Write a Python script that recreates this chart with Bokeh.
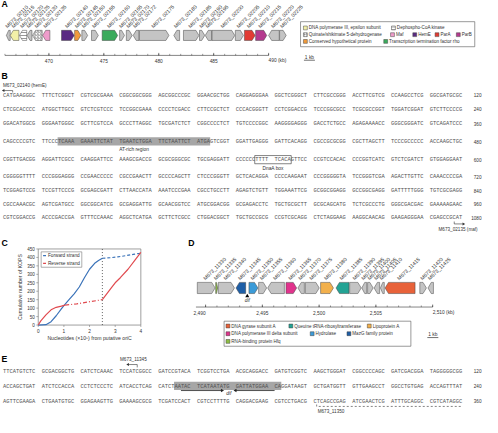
import math
from bokeh.plotting import figure
from bokeh.models import Range1d, ColumnDataSource
from bokeh.core.properties import value
from bokeh.embed import file_html
from bokeh.resources import INLINE

# ============================ DATA ============================
# ---- Panel A: gene map (kb) ----
A_IDS = ["M673_02110", "M673_02115", "M673_02120", "M673_02125", "M673_02130", "M673_02135",
         "M673_02140", "M673_02145", "M673_02150", "M673_02155", "M673_02160", "M673_02165",
         "M673_02170", "M673_02172", "M673_02175", "M673_02180", "M673_02185", "M673_02190",
         "M673_02195", "M673_02200", "M673_02205", "M673_02210", "M673_02215", "M673_02220",
         "M673_02225"]
A_START = [466.13, 466.48, 467.32, 468.02, 468.51, 469.43, 471.15, 472.34, 473.00, 473.88,
           474.85, 476.44, 477.05, 477.67, 478.24, 481.37, 482.25, 483.71, 484.23, 484.85,
           486.97, 487.80, 488.82, 490.00, 491.00]
A_END = [466.48, 467.27, 467.98, 468.46, 469.39, 470.09, 472.30, 472.91, 473.53, 474.50,
         476.26, 476.88, 477.58, 478.20, 480.93, 481.90, 483.66, 484.19, 484.81, 486.92,
         487.71, 488.77, 489.83, 490.97, 491.60]
A_STRAND = [-1, -1, -1, -1, -1, -1, 1, 1, 1, 1, 1, 1, 1, -1, 1, -1, 1, 1, -1, 1, 1, 1, 1, -1, 1]
A_FUNC = ["hyp", "polIII", "coaE", "hyp", "aroE", "maf", "hemE", "chp", "hyp", "hyp", "rho",
          "hyp", "hyp", "hyp", "hyp", "hyp", "hyp", "hyp", "hyp", "hyp", "hyp", "parA", "parB",
          "hyp", "hyp"]
A_AXIS = (466, 490)
A_TICKS = [470, 475, 480, 485, 490]
A_TICK_LABELS = ["470", "475", "480", "485", "490 (kb)"]
A_LEG_FUNC = ["polIII", "coaE", "aroE", "maf", "hemE", "parA", "parB", "chp", "rho"]
A_LEG_TEXT = ["DNA polymerase III, epsilon subunit", "Dephospho-CoA kinase",
              "Quinate/shikimate 5-dehydrogenase", "Maf", "HemE", "ParA", "ParB",
              "Conserved hypothetical protein", "Transcription termination factor rho"]

# ---- Panel B: sequence ----
B_SEQ = [
    "CATGAAGGGC TTTCTCGGCT CGTCGCGAAA CGGCGGCGGG AGCGGCCCGC GGAACGCTGG CAGGAGGGAA GGCTCGGGCT CTTCGCCGGG ACCTTCGTCG CCAAGCCTCG GGCGATGCGC",
    "CTCGCACCCC ATGGCTTGCC GTCTCGTCCC TCCGGCGAAA CCCCTCGACC CTTCCGCTCT CCCACGGGTT CCTCGGACCG TCCCGGCGCC TCGCGCCGGT TGGATCGGAT GTCTTCCCCG",
    "GGACATGGCG GGGAATGGGC GCTTCGTCCA GCCCTTAGGC TGCGATCTCT CGGCCCCTCT TGTCCCCGGC AAGGGGAGGG GACCTCTGCC AGAGAAAACC GGGCGGGATC GTCAGATCCC",
    "CAGCCCCGTC TTCCCTCAAA GAAATTCTAT TGAATCTGGA TTCTAATTCT ATGAGTCGGT GGATTGAGGG GATTCACAGG CGCCGCGCGG CGCTTAGCTT TCCCGCCCCC ACCAAGCTGC",
    "CGGTTGACGG AGGATTCGCC CAAGGATTCC AAAGCGACCG GCGCGGGCGC TGCGAGGATT CCCCCCTTTT TCACAGTTCC CCGTCCACAC CCCGGTCATC GTCTCGATCT GTGGAGGAAT",
    "CGGGGGTTTT CCCGGGAGGG CCGAACCCCC CGCCGAACTT GCCCCAGCTT CTCCCGGGTT GCTCACAGGA CCCCAAGAAT CCCGGGGGTA TCCGGGTCGA AGACTTGTTC CAAACCCCGA",
    "TCGGAGTCCG TCCGTTCCCG GCGAGCGATT CTTAACCATA AAATCCCGAA CGCCTGCCTT AGAGTCTGTT TGGAAATTCG GCGGCGGAGG GCCGGCGAGG GATTTTTGGG TGTCGCGAGG",
    "CGCCAAACGC AGTCGATGCC GGCGGCATCG GCGAGGATTG GCAACGGTCC ATGCGGACGG GCGAGACCTC TGCTGCGCTT GCGCAGCATG TCTCGCCCTG GGGCGACGAC GAAAAAGAAC",
    "CGTCGGACCG ACCCGACCGA GTTTCCAAAC AGGCTCATGA GCTTCTCGCC CTGGACGGCT TGCTGCCGCG CCGTCGCAGG CTCTAGGAAG AAGGCAACAG GAAGAGGGAA CGAGCCGCAT",
]
B_ENDS = ["120", "240", "360", "480", "600", "720", "840", "960", "1080"]

# ---- Panel C: cumulative KOPS ----
C_FWD_X = [0.0, 0.3, 0.5, 0.7, 0.9, 1.0, 1.2, 1.4, 1.6, 1.8, 2.0, 2.2, 2.35, 2.5]
C_FWD_Y = [0, 2, 20, 55, 95, 115, 150, 185, 225, 280, 330, 365, 382, 395]
C_FWD2_X = [2.5, 2.8, 3.1, 3.4, 3.7, 4.0]
C_FWD2_Y = [395, 398, 403, 410, 418, 425]
C_REV_X = [0.0, 0.1, 0.3, 0.5, 0.7, 0.9, 1.05]
C_REV_Y = [0, 25, 60, 90, 105, 112, 118]
C_REV2_X = [1.05, 1.5, 2.0, 2.5]
C_REV2_Y = [118, 125, 138, 150]
C_REV3_X = [2.5, 2.7, 2.9, 3.0, 3.2, 3.5, 3.8, 4.0]
C_REV3_Y = [150, 190, 230, 250, 280, 330, 390, 430]
C_XTICKS = [0, 1, 2, 3, 4]
C_YTICKS = [0, 50, 100, 150, 200, 250, 300, 350, 400, 450]
C_ORIC_DIST = 2.5

# ---- Panel D: gene map (kb) ----
D_IDS = ["M673_11330", "M673_11335", "M673_11340", "M673_11345", "M673_11350", "M673_11355",
         "M673_11360", "M673_11365", "M673_11370", "M673_11375", "M673_11380", "M673_11385",
         "M673_11390", "M673_11395", "M673_11400", "M673_11405", "M673_11410", "M673_11415",
         "M673_11420", "M673_11425"]
D_START = [2489.27, 2490.89, 2491.12, 2492.68, 2493.82, 2494.67, 2495.47, 2497.08, 2498.13,
           2498.79, 2500.13, 2501.49, 2502.69, 2503.76, 2504.27, 2504.84, 2505.40, 2505.81,
           2508.87, 2509.59]
D_END = [2490.84, 2491.06, 2492.54, 2493.53, 2494.61, 2495.38, 2496.94, 2498.02, 2498.70,
         2500.01, 2501.26, 2502.63, 2503.71, 2504.19, 2504.76, 2505.33, 2505.74, 2508.45,
         2509.45, 2510.07]
D_STRAND = [1, 1, 1, -1, 1, 1, -1, 1, -1, 1, 1, -1, 1, -1, 1, -1, -1, -1, 1, -1]
D_FUNC = ["hyp", "hfq", "hyp", "mazG", "hydro", "hyp", "hyp", "holA", "hyp", "hyp", "lppA",
          "tgt", "hyp", "hyp", "hyp", "hyp", "hyp", "gyrA", "hyp", "hyp"]
D_DIF = 2493.67
D_AXIS = (2489.15, 2510)
D_TICKS = [2490, 2495, 2500, 2505, 2510]
D_TICK_LABELS = ["2,490", "2,495", "2,500", "2,505", "2,510 (kb)"]
D_LEG_FUNC = ["gyrA", "tgt", "lppA", "holA", "hydro", "mazG", "hfq"]
D_LEG_TEXT = ["DNA gyrase subunit A", "Queuine tRNA-ribosyltransferase", "Lipoprotein A",
              "DNA polymerase III delta subunit", "Hydrolase", "MazG family protein",
              "RNA-binding protein Hfq"]

# ---- Panel E: sequence ----
E_SEQ = [
    "TTCATGTCTC GCGACGGCTG CATCTCAAAC TCCATCGGCC GATCCGTACA TCGGTCCTGA ACGCAGGACC GATGTCGGTC AAGCTGGGAT CGGCCCCAGC GATCGACGGA TAGGGGGCGG",
    "ACCAGCTGAT ATCTCCACCA CCTCTCCCTC ATCACCTCAG CATCTAATAC TCATAATATG GATTATGGAA CAGGATAAGT GCTGATGGTT GTTGAAGCCT GGCCTGTGAG ACCAGTTTAT",
    "AGTTCGAAGA CTGAATGTGC GGAGAAGTTG GAAAAGCGCG TCGATCCACT CGTCCTTTTG CAGGACGAAG CGTCCTGACG CTCAGCCGAG ATCGAACTCG ATTTGCAGGC CGTCATAGGC",
]
E_ENDS = ["120", "240", "360"]

# ============================ STYLE / LAYOUT ============================
COLORS = {"hyp": "#c4c4c4", "polIII": "#f3f0a8", "coaE": "#ffffff", "aroE": "#ffffff",
          "maf": "#ee9ccb", "hemE": "#5a2a83", "chp": "#f09a3c", "rho": "#3bab5c",
          "parA": "#e23b33", "parB": "#b53a8f",
          "gyrA": "#e8623a", "holA": "#e0338c", "hfq": "#8dbd44", "tgt": "#23a394",
          "hydro": "#3b9bd8", "mazG": "#1e5ea6", "lppA": "#f2b04c"}
HATCH = {"aroE": "/", "coaE": "-"}

REF_W, REF_H = 498, 433
W, H = 482, 417
S = W / REF_W


def fsz(px):
    return f"{px * S:.2f}px"


SANS = value("Liberation Sans")
MONO = value("Liberation Mono")
TXT = "#333333"
SEQ_COL = "#505050"

A_PX470, A_PXKB = 50.0, 11.35
D_PX2490, D_PXKB = 211.9, 11.73
C_L, C_R, C_T, C_B = 39.0, 145.0, 258.0, 337.0
C_XMAX, C_YMAX = 4.0, 450.0
CXP = C_XMAX / (C_R - C_L)
CYP = C_YMAX / (C_B - C_T)

p = figure(width=W, height=H, x_range=Range1d(0, REF_W), y_range=Range1d(REF_H, 0),
           output_backend="svg", toolbar_location=None, min_border=0,
           x_axis_location=None, y_axis_location=None)
p.grid.visible = False
p.outline_line_color = None
p.background_fill_color = "white"
p.extra_x_ranges = {
    "akb": Range1d(470 - A_PX470 / A_PXKB, 470 + (REF_W - A_PX470) / A_PXKB),
    "dkb": Range1d(2490 - D_PX2490 / D_PXKB, 2490 + (REF_W - D_PX2490) / D_PXKB),
    "cx": Range1d(-C_L * CXP, (REF_W - C_L) * CXP),
}
p.extra_y_ranges = {"cy": Range1d((C_B - REF_H) * CYP, C_B * CYP)}


def text(x, y, t, size, align="left", baseline="middle", color=TXT, font=SANS,
         style="normal", angle=0.0, xr="default", yr="default"):
    src = ColumnDataSource(dict(x=list(x), y=list(y), t=list(t)))
    p.text(x="x", y="y", text="t", source=src, text_font=font, text_font_size=fsz(size),
           text_align=align, text_baseline=baseline, text_color=color,
           text_font_style=style, angle=angle, x_range_name=xr, y_range_name=yr)


def gene_map(rng, ids, starts, ends, strands, funcs, ytop, ybot, head_kb, label_size):
    xs, ys, cols = [], [], []
    hx, hy, hp = [], [], []
    ym = (ytop + ybot) / 2
    for s, e, st, f in zip(starts, ends, strands, funcs):
        h = min(head_kb, (e - s) * 0.6)
        if st > 0:
            gx = [s, e - h, e, e - h, s]
        else:
            gx = [e, s + h, s, s + h, e]
        gy = [ytop, ytop, ym, ybot, ybot]
        xs.append(gx); ys.append(gy); cols.append(COLORS[f])
        if f in HATCH:
            hx.append(gx); hy.append(gy); hp.append(HATCH[f])
    p.patches(xs=xs, ys=ys, fill_color=cols, line_color="#444444", line_width=0.5,
              x_range_name=rng)
    if hx:
        p.patches(xs=hx, ys=hy, fill_alpha=0, line_alpha=0, hatch_pattern=hp,
                  hatch_color="#333333", hatch_scale=3.0, hatch_weight=0.5, x_range_name=rng)
    centers = [(s + e) / 2 for s, e in zip(starts, ends)]
    text(centers, [ytop - 1.2] * len(ids), ids, label_size, align="left",
         baseline="bottom", angle=math.pi / 4, xr=rng)


def kb_axis(rng, lo, hi, majors, labels, aligns, y, label_dy):
    p.segment(x0=[lo], y0=[y], x1=[hi], y1=[y], line_color="#333333", line_width=0.6,
              x_range_name=rng)
    minors = list(range(math.ceil(lo), int(hi) + 1))
    p.segment(x0=minors, y0=[y - 1.6] * len(minors), x1=minors, y1=[y] * len(minors),
              line_color="#333333", line_width=0.5, x_range_name=rng)
    p.segment(x0=majors, y0=[y - 2.6] * len(majors), x1=majors, y1=[y] * len(majors),
              line_color="#333333", line_width=0.6, x_range_name=rng)
    for m, lab, al in zip(majors, labels, aligns):
        text([m], [y + label_dy], [lab], 5.0, align=al, xr=rng)


def scale_bar(x, y):
    p.segment(x0=[x], y0=[y], x1=[x + A_PXKB], y1=[y], line_color="#333333", line_width=0.7)
    text([x + A_PXKB / 2], [y - 3], ["1 kb"], 5.0, align="center")


def legend(funcs, labels, pos, leg_box):
    l, t, r, b = leg_box
    p.quad(left=[l], right=[r], top=[t], bottom=[b], fill_color="white",
           line_color="#555555", line_width=0.6)
    xs = [q[0] for q in pos]
    ys = [q[1] for q in pos]
    cols = [COLORS[f] for f in funcs]
    p.quad(left=xs, right=[x + 4 for x in xs], top=[y - 2 for y in ys],
           bottom=[y + 2 for y in ys], fill_color=cols, line_color="#444444", line_width=0.5)
    hq = [(x, y, HATCH[f]) for x, y, f in zip(xs, ys, funcs) if f in HATCH]
    if hq:
        p.quad(left=[q[0] for q in hq], right=[q[0] + 4 for q in hq],
               top=[q[1] - 2 for q in hq], bottom=[q[1] + 2 for q in hq], fill_alpha=0,
               line_alpha=0, hatch_pattern=[q[2] for q in hq], hatch_color="#333333",
               hatch_scale=2.5, hatch_weight=0.5)
    text([x + 5.5 for x in xs], ys, labels, 4.7, align="left")


# ---- panel letters ----
text([1, 1, 1, 194, 1], [4, 78, 252, 252, 372], ["A", "B", "C", "D", "E"], 9,
     style="bold", color="black")

# ============================ PANEL A ============================
gene_map("akb", A_IDS, A_START, A_END, A_STRAND, A_FUNC, 31, 41.5, 0.28, 5.3)
kb_axis("akb", A_AXIS[0], A_AXIS[1], A_TICKS, A_TICK_LABELS,
        ["center", "center", "center", "center", "left"], 57, 5.5)
legend(A_LEG_FUNC, A_LEG_TEXT,
       [(313, 28.5), (404, 28.5), (313, 35.5), (403, 35.5), (426, 35.5), (449, 35.5),
        (471, 35.5), (313, 42.5), (396, 42.5)],
       (310, 22, 490, 48))
scale_bar(313.5, 62)

# ============================ PANEL B ============================
GX0, GW, CW = 2.5, 40.1, 3.36
B_Y = [98.5, 113.0, 128.0, 146.5, 165.5, 183.0, 197.5, 211.5, 225.5]
E_Y = [385.0, 400.5, 416.0]


def seq_block(lines, ys, ends):
    gx, gy, gt = [], [], []
    for line, y in zip(lines, ys):
        for g, grp in enumerate(line.split(" ")):
            gx.append(GX0 + g * GW); gy.append(y); gt.append(grp)
    text(gx, gy, gt, 5.6, align="left", color=SEQ_COL, font=MONO)
    text([497] * len(ends), ys, ends, 4.8, align="right")


def seq_x(g, c):
    return GX0 + g * GW + c * CW


# AT-rich highlight (line 4) and DnaA box (line 5)
p.quad(left=[seq_x(1, 5) - 0.4], right=[seq_x(5, 4) + 0.2], top=[B_Y[3] - 4.5],
       bottom=[B_Y[3] + 4.0], fill_color="#a6a6a6", line_color=None)
p.quad(left=[seq_x(6, 6) - 0.6], right=[seq_x(7, 5) + 0.4], top=[B_Y[4] - 4.5],
       bottom=[B_Y[4] + 4.0], fill_color=None, line_color="#333333", line_width=0.6)
seq_block(B_SEQ, B_Y, B_ENDS)
text([(seq_x(1, 5) + seq_x(5, 4)) / 2], [B_Y[3] + 8.5], ["AT-rich region"], 5.0, align="center")
text([(seq_x(6, 6) + seq_x(7, 5)) / 2], [B_Y[4] + 8.5], ["DnaA box"], 5.0, align="center")

# hemE start arrow
hx = seq_x(0, 3)
p.line(x=[hx, hx, 2.5], y=[B_Y[0] - 3, 93.5, 93.5], line_color="#333333", line_width=0.6)
p.scatter(x=[3.2], y=[93.5], marker="triangle", size=3, angle=math.pi / 2,
          fill_color="#333333", line_color=None)
text([2.5], [88.5], ["M673_02140 (hemE)"], 4.8, align="left")
# maf start arrow
mx = seq_x(11, 7.5)
p.line(x=[mx, mx, mx + 9], y=[B_Y[8] + 4, 232, 232], line_color="#333333", line_width=0.6)
p.scatter(x=[mx + 9.5], y=[232], marker="triangle", size=3, angle=-math.pi / 2,
          fill_color="#333333", line_color=None)
text([493], [238], ["M673_02135 (maf)"], 4.8, align="right")

# ============================ PANEL C ============================
CX = dict(x_range_name="cx", y_range_name="cy")
p.quad(left=[0], right=[C_XMAX], bottom=[0], top=[C_YMAX], fill_color=None,
       line_color="#777777", line_width=0.7, **CX)
p.segment(x0=[-2 * CXP] * len(C_YTICKS), x1=[0] * len(C_YTICKS), y0=C_YTICKS, y1=C_YTICKS,
          line_color="#777777", line_width=0.6, **CX)
p.segment(x0=C_XTICKS, x1=C_XTICKS, y0=[0] * len(C_XTICKS), y1=[-2 * CYP] * len(C_XTICKS),
          line_color="#777777", line_width=0.6, **CX)
text([-3.5 * CXP] * len(C_YTICKS), C_YTICKS, [str(v) for v in C_YTICKS], 4.7, align="right",
     xr="cx", yr="cy")
text(C_XTICKS, [-6.5 * CYP] * len(C_XTICKS), [str(v) for v in C_XTICKS], 4.9, align="center",
     xr="cx", yr="cy")
p.segment(x0=[C_ORIC_DIST], x1=[C_ORIC_DIST], y0=[0], y1=[C_YMAX], line_color="#222222",
          line_width=0.7, line_dash="1 2", **CX)
BLUE, RED = "#3b73b9", "#e04a4f"
p.line(x=C_FWD_X, y=C_FWD_Y, line_color=BLUE, line_width=1.2, **CX)
p.line(x=C_FWD2_X, y=C_FWD2_Y, line_color=BLUE, line_width=1.2, line_dash="3 2", **CX)
p.line(x=C_REV_X, y=C_REV_Y, line_color=RED, line_width=1.2, **CX)
p.line(x=C_REV2_X, y=C_REV2_Y, line_color=RED, line_width=1.2, line_dash="4 2 1 2", **CX)
p.line(x=C_REV3_X, y=C_REV3_Y, line_color=RED, line_width=1.2, **CX)
# legend
p.quad(left=[42], right=[84], top=[261], bottom=[277], fill_color="white",
       line_color="#777777", line_width=0.6)
p.segment(x0=[44, 44], x1=[47, 47], y0=[265, 273], y1=[265, 273], line_color=[BLUE, RED],
          line_width=1.2)
text([49, 49], [265, 273], ["Forward strand", "Reverse strand"], 4.9)
text([92], [350], ["Nucleotides (\u00d710\u2075) from putative oriC"], 5.3, align="center")
text([20], [(C_T + C_B) / 2], ["Cumulative number of KOPS"], 5.3, align="center",
     angle=math.pi / 2)

# ============================ PANEL D ============================
gene_map("dkb", D_IDS, D_START, D_END, D_STRAND, D_FUNC, 292.7, 304.3, 0.3, 5.3)
p.scatter(x=[D_DIF], y=[307], marker="triangle", size=4, fill_color="black", line_color=None,
          x_range_name="dkb")
text([D_DIF], [312], ["dif"], 5.0, align="center", style="italic", xr="dkb")
kb_axis("dkb", D_AXIS[0], D_AXIS[1], D_TICKS, D_TICK_LABELS,
        ["right", "center", "center", "center", "left"], 318.3, 6.0)
legend(D_LEG_FUNC, D_LEG_TEXT,
       [(233, 338), (298, 338), (379, 338), (233, 346), (320, 346), (358, 346), (233, 354)],
       (231, 333, 424, 359))
scale_bar(441, 350)

# ============================ PANEL E ============================
p.quad(left=[seq_x(4, 5) - 0.4], right=[seq_x(7, 2) + 0.2], top=[E_Y[1] - 4.5],
       bottom=[E_Y[1] + 4.0], fill_color="#a6a6a6", line_color=None)
seq_block(E_SEQ, E_Y, E_ENDS)
ex = seq_x(3, 5.5)
p.line(x=[ex, ex, ex - 9], y=[E_Y[0] - 4, 378, 378], line_color="#333333", line_width=0.6)
p.scatter(x=[ex - 9.5], y=[378], marker="triangle", size=3, angle=math.pi / 2,
          fill_color="#333333", line_color=None)
text([ex - 4], [372.5], ["M673_11345"], 4.8, align="center")
# dif arrows
d0, d1 = seq_x(4, 7), seq_x(7, 0)
dm = (seq_x(4, 5) + seq_x(7, 2)) / 2
p.segment(x0=[d0, d1], x1=[dm - 6, dm + 8], y0=[405, 405], y1=[405, 405],
          line_color="#222222", line_width=0.8)
p.scatter(x=[dm - 6, dm + 8], y=[405, 405], marker="triangle", size=3.5,
          angle=[-math.pi / 2, math.pi / 2], fill_color="#222222", line_color=None)
text([dm + 1], [408.5], ["dif"], 5.0, align="center", style="italic")
# M673_11350 dashed bracket
b0, b1 = seq_x(8, 1), seq_x(11, 10)
p.line(x=[b0, b0, b1], y=[E_Y[2] + 3.5, 421.5, 421.5], line_color="#333333", line_width=0.6,
       line_dash="2 2")
text([b0 + 1], [426.5], ["M673_11350"], 4.8, align="left")

open("out.html", "w").write(file_html(p, INLINE))
